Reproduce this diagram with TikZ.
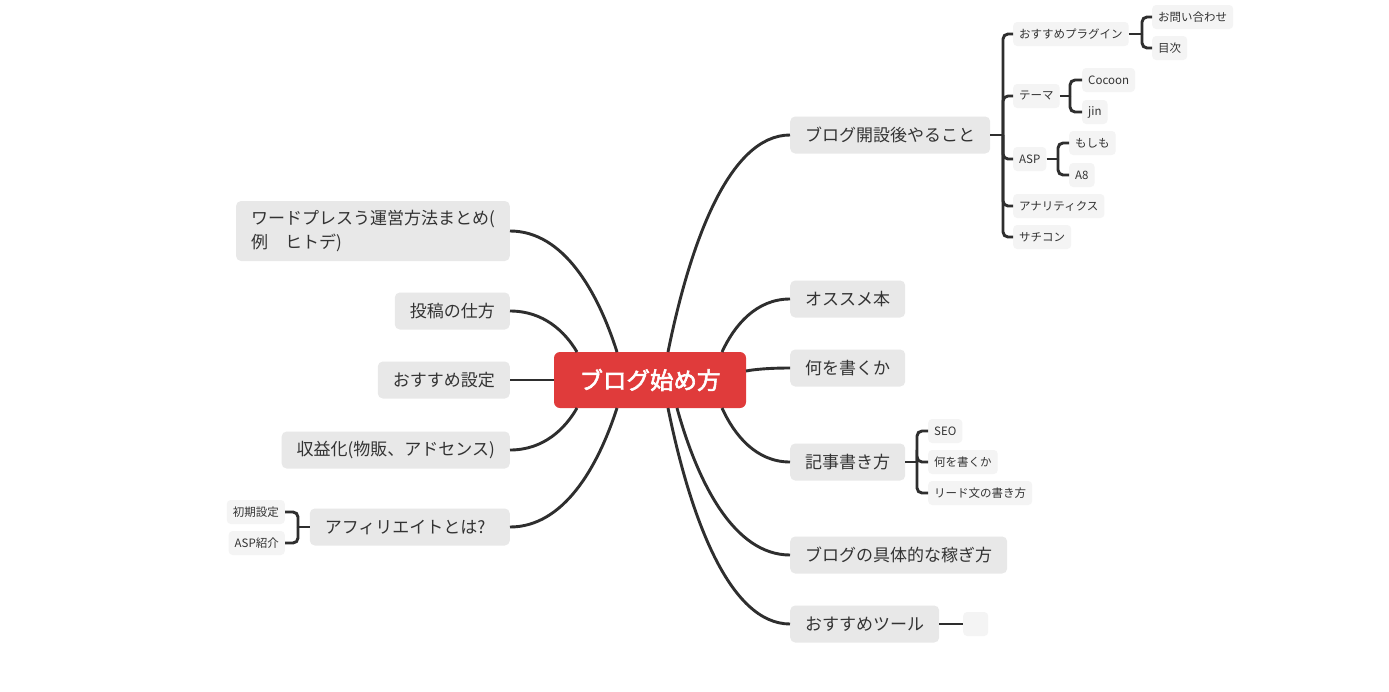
\documentclass[tikz,border=0pt]{standalone}
\usepackage{fontspec}
\setmainfont{Noto Sans CJK JP}
\newfontfamily\rootfont{Noto Sans CJK JP}[FakeBold=2.5]
\usetikzlibrary{calc}
\definecolor{boxgray}{HTML}{E8E8E8}
\definecolor{subgray}{HTML}{F4F4F4}
\definecolor{txt}{HTML}{333333}
\definecolor{linec}{HTML}{2E2E2E}
\definecolor{rootred}{HTML}{E03B3B}
\newcommand\curveconn[2]{\draw[conn] let \p1=(#1), \p2=(#2) in (\p1) .. controls ({\x1+0.18*(\x2-\x1)},{\y1+0.5*(\y2-\y1)}) and ({\x1+0.5*(\x2-\x1)},{\y2}) .. (\p2);}
\begin{document}
\begin{tikzpicture}[x=1pt,y=-1pt,
  mainbox/.style={fill=boxgray, rounded corners=5pt, minimum height=37pt, inner xsep=15pt, inner ysep=0pt, font=\fontsize{17}{24}\selectfont, text=txt},
  subbox/.style={fill=subgray, rounded corners=4pt, minimum height=24pt, inner xsep=6pt, inner ysep=0pt, font=\fontsize{11.5}{14}\selectfont, text=txt},
  rootbox/.style={fill=rootred, rounded corners=6pt, minimum width=192pt, minimum height=56pt, inner sep=0pt, text=white, font=\fontsize{23.5}{28}\rootfont},
  conn/.style={draw=linec, line width=2.9pt},
  brk/.style={draw=linec, line width=2.9pt, rounded corners=5pt}]
\path[use as bounding box, fill=white] (0,0) rectangle (1389,691);

% root
\node[rootbox] (root) at (650,380) {ブログ始め方};

% start points on root
\coordinate (sL1) at (617,352);
\coordinate (sL2) at (577,352);
\coordinate (sL3) at (554,380);
\coordinate (sL4) at (577,408);
\coordinate (sL5) at (617,408);
\coordinate (sR1) at (668,352);
\coordinate (sR2) at (722,352);
\coordinate (sR3) at (746,371);
\coordinate (sR4) at (722,408);
\coordinate (sR5) at (677,408);
\coordinate (sR6) at (668,408);

% right main branches
\node[mainbox, anchor=west] (r1) at (790,135) {ブログ開設後やること};
\node[mainbox, anchor=west] (r2) at (790,299) {オススメ本};
\node[mainbox, anchor=west] (r3) at (790,368) {何を書くか};
\node[mainbox, anchor=west] (r4) at (790,462) {記事書き方};
\node[mainbox, anchor=west] (r5) at (790,555) {ブログの具体的な稼ぎ方};
\node[mainbox, anchor=west] (r6) at (790,624) {おすすめツール};

% left main branches
\node[mainbox, anchor=east, minimum height=60pt, align=left] (l1) at (510,231) {ワードプレスう運営方法まとめ(\\例　ヒトデ)};
\node[mainbox, anchor=east] (l2) at (510,311) {投稿の仕方};
\node[mainbox, anchor=east] (l3) at (510,380) {おすすめ設定};
\node[mainbox, anchor=east] (l4) at (510,450) {収益化(物販、アドセンス)};
\node[mainbox, anchor=east, text width=170pt, align=left] (l5) at (510,527) {アフィリエイトとは?};

% main connectors
\curveconn{sL1}{l1.east}
\curveconn{sL2}{l2.east}
\draw[conn] (sL3) -- (l3.east);
\curveconn{sL4}{l4.east}
\curveconn{sL5}{l5.east}
\curveconn{sR1}{r1.west}
\curveconn{sR2}{r2.west}
\curveconn{sR3}{r3.west}
\curveconn{sR4}{r4.west}
\curveconn{sR5}{r5.west}
\curveconn{sR6}{r6.west}

% sub nodes of r1
\node[subbox, anchor=west] (a1) at (1013,34) {おすすめプラグイン};
\node[subbox, anchor=west] (a2) at (1013,96) {テーマ};
\node[subbox, anchor=west] (a3) at (1013,159) {ASP};
\node[subbox, anchor=west] (a4) at (1013,206) {アナリティクス};
\node[subbox, anchor=west] (a5) at (1013,237) {サチコン};
\coordinate (ja) at (1003,135);
\draw[conn] (r1.east) -- (ja);
\foreach \n in {a1,a2,a3,a4,a5} \draw[brk] (ja) |- (\n.west);

\node[subbox, anchor=west] (a11) at (1152,17) {お問い合わせ};
\node[subbox, anchor=west] (a12) at (1152,48) {目次};
\coordinate (ja1) at (1142,34);
\draw[conn] (a1.east) -- (ja1);
\foreach \n in {a11,a12} \draw[brk] (ja1) |- (\n.west);

\node[subbox, anchor=west] (a21) at (1082,80) {Cocoon};
\node[subbox, anchor=west] (a22) at (1082,112) {jin};
\coordinate (ja2) at (1070,96);
\draw[conn] (a2.east) -- (ja2);
\foreach \n in {a21,a22} \draw[brk] (ja2) |- (\n.west);

\node[subbox, anchor=west] (a31) at (1069,143) {もしも};
\node[subbox, anchor=west] (a32) at (1069,175) {A8};
\coordinate (ja3) at (1058,159);
\draw[conn] (a3.east) -- (ja3);
\foreach \n in {a31,a32} \draw[brk] (ja3) |- (\n.west);

% sub nodes of r4
\node[subbox, anchor=west] (d1) at (928,431) {SEO};
\node[subbox, anchor=west] (d2) at (928,462) {何を書くか};
\node[subbox, anchor=west] (d3) at (928,493) {リード文の書き方};
\coordinate (jd) at (917,462);
\draw[conn] (r4.east) -- (jd);
\foreach \n in {d1,d2,d3} \draw[brk] (jd) |- (\n.west);

% sub node of r6
\node[subbox, anchor=west, minimum width=25pt] (f1) at (963,624) {};
\draw[conn] (r6.east) -- (f1.west);

% sub nodes of l5
\node[subbox, anchor=east] (e1) at (285,512) {初期設定};
\node[subbox, anchor=east] (e2) at (285,543) {ASP紹介};
\coordinate (je) at (298,527);
\draw[conn] (l5.west) -- (je);
\foreach \n in {e1,e2} \draw[brk] (je) |- (\n.east);
\end{tikzpicture}
\end{document}
